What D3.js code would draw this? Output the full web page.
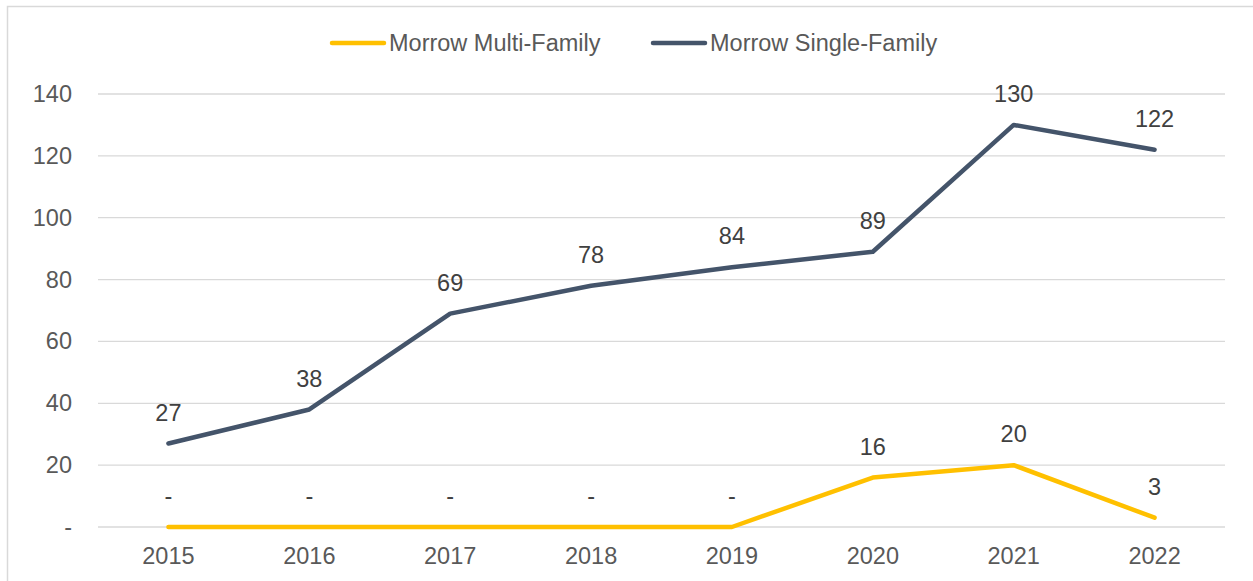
<!DOCTYPE html>
<html>
<head>
<meta charset="utf-8">
<script src="https://cdn.jsdelivr.net/npm/d3@7"></script>
<style>
  body { margin: 0; background: #fff; }
  svg { font-family: "Liberation Sans", Arial, sans-serif; }
</style>
</head>
<body>
<div id="chart"></div>
<script>
const years = ["2015", "2016", "2017", "2018", "2019", "2020", "2021", "2022"];
const multiFamily = [0, 0, 0, 0, 0, 16, 20, 3];
const singleFamily = [27, 38, 69, 78, 84, 89, 130, 122];
const yTicks = [0, 20, 40, 60, 80, 100, 120, 140];

const seriesList = [
    { name: "Morrow Multi-Family", values: multiFamily, color: "#FFC000" },
    { name: "Morrow Single-Family", values: singleFamily, color: "#44546A" }
];

const width = 1253, height = 581;
const margin = { top: 94, right: 28, bottom: 54, left: 98 };
const chartWidth = width - margin.left - margin.right;
const chartHeight = height - margin.top - margin.bottom;
const fontSize = "23.5px";

const svg = d3.select("#chart")
    .append("svg")
    .attr("width", width)
    .attr("height", height);

// outer border of the chart box
svg.append("rect")
    .attr("x", 7.5)
    .attr("y", 6.5)
    .attr("width", width + 20)
    .attr("height", height + 20)
    .attr("fill", "none")
    .attr("stroke", "#d9d9d9")
    .attr("stroke-width", 1.5);

const g = svg.append("g")
    .attr("transform", `translate(${margin.left}, ${margin.top})`);

const xScale = d3.scaleBand()
    .domain(years)
    .range([0, chartWidth]);
const yScale = d3.scaleLinear()
    .domain([0, 140])
    .range([chartHeight, 0]);

// gridlines
g.selectAll(".grid")
    .data(yTicks)
    .enter()
    .append("line")
    .attr("x1", 0)
    .attr("x2", chartWidth)
    .attr("y1", d => yScale(d))
    .attr("y2", d => yScale(d))
    .attr("stroke", "#d9d9d9")
    .attr("stroke-width", 1.3);

// y axis
const yAxis = g.append("g")
    .call(d3.axisLeft(yScale).tickValues(yTicks).tickSize(0).tickPadding(26)
        .tickFormat(d => d === 0 ? "-" : d));
yAxis.select(".domain").remove();
yAxis.selectAll("text")
    .attr("fill", "#595959")
    .style("font-size", fontSize);

// x axis
const xAxis = g.append("g")
    .attr("transform", `translate(0, ${chartHeight})`)
    .call(d3.axisBottom(xScale).tickSize(0).tickPadding(20));
xAxis.select(".domain").remove();
xAxis.selectAll("text")
    .attr("fill", "#595959")
    .style("font-size", fontSize);

const line = d3.line()
    .x((d, i) => xScale(years[i]) + xScale.bandwidth() / 2)
    .y(d => yScale(d));

seriesList.forEach(s => {
    g.append("path")
        .datum(s.values)
        .attr("d", line)
        .attr("fill", "none")
        .attr("stroke", s.color)
        .attr("stroke-width", 4.5)
        .attr("stroke-linejoin", "round")
        .attr("stroke-linecap", "round");

    g.selectAll(null)
        .data(s.values)
        .enter()
        .append("text")
        .attr("x", (d, i) => xScale(years[i]) + xScale.bandwidth() / 2)
        .attr("y", d => yScale(d) - 31)
        .attr("dy", "0.35em")
        .attr("text-anchor", "middle")
        .attr("fill", "#404040")
        .style("font-size", fontSize)
        .text(d => d === 0 ? "-" : d);
});

// legend
const legendItems = [
    { x: 332, s: seriesList[0] },
    { x: 653, s: seriesList[1] }
];
legendItems.forEach(item => {
    svg.append("line")
        .attr("x1", item.x)
        .attr("x2", item.x + 52)
        .attr("y1", 43)
        .attr("y2", 43)
        .attr("stroke", item.s.color)
        .attr("stroke-width", 4.5)
        .attr("stroke-linecap", "round");
    svg.append("text")
        .attr("x", item.x + 57)
        .attr("y", 43)
        .attr("dy", "0.35em")
        .attr("fill", "#595959")
        .style("font-size", fontSize)
        .text(item.s.name);
});
</script>
</body>
</html>
